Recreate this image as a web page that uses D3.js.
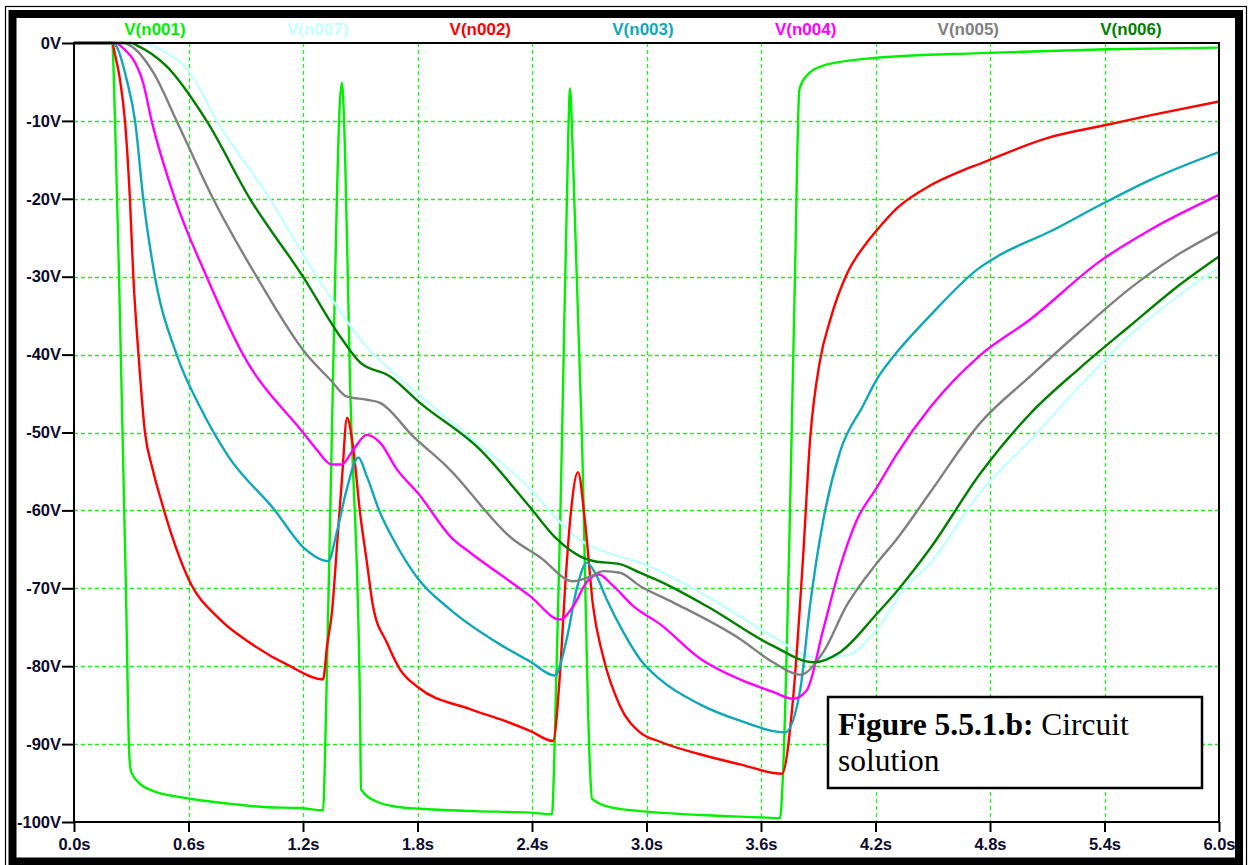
<!DOCTYPE html>
<html>
<head>
<meta charset="utf-8">
<script src="https://cdn.jsdelivr.net/npm/d3@7"></script>
<style>
  html, body { margin: 0; padding: 0; background: #fff; }
  svg { display: block; }
</style>
</head>
<body>
<svg id="chart" width="1252" height="865"></svg>
<script>
// Transient node voltages, [time (s), volts]
const timeTicks = [0, 0.6, 1.2, 1.8, 2.4, 3.0, 3.6, 4.2, 4.8, 5.4, 6.0];
const voltTicks = [0, -10, -20, -30, -40, -50, -60, -70, -80, -90, -100];

const traceNames  = ["V(n001)", "V(n007)", "V(n002)", "V(n003)", "V(n004)", "V(n005)", "V(n006)"];
const traceColors = ["#00f000", "#c4ffff", "#ff0000", "#10a8b8", "#ff00ff", "#808080", "#008000"];

const vN001 = [[0,0],[0.2,0],[0.215,-10],[0.236,-30],[0.257,-53],[0.272,-70],[0.29,-91.5],[0.3,-93.6],[0.346,-95.1],[0.414,-96],[0.555,-96.8],[0.66,-97.2],[0.833,-97.7],[1.01,-98.1],[1.184,-98.2],[1.305,-98.5],[1.321,-85.5],[1.357,-43.2],[1.394,-7.3],[1.404,-5.1],[1.42,-13.7],[1.446,-43.2],[1.499,-85.5],[1.504,-95.8],[1.588,-97.4],[1.708,-98.1],[1.813,-98.3],[2.1,-98.6],[2.39,-98.8],[2.505,-99],[2.515,-93.6],[2.557,-51],[2.59,-12],[2.599,-5.8],[2.615,-15],[2.662,-51],[2.704,-93.2],[2.714,-97],[2.809,-98.1],[3.018,-98.7],[3.28,-99.1],[3.595,-99.4],[3.7,-99.5],[3.714,-94.5],[3.752,-60.1],[3.778,-29.9],[3.801,-6],[3.839,-4.2],[3.926,-2.9],[4.206,-1.9],[4.748,-1.3],[5.413,-0.8],[6.0,-0.6]];

const vN007 = [[0,0],[0.362,0],[0.45,-0.8],[0.608,-3.8],[0.748,-10],[1.027,-20],[1.272,-30],[1.377,-33.8],[1.499,-38],[1.777,-44.5],[2.075,-50.6],[2.39,-57.2],[2.547,-61.5],[2.652,-63.8],[2.791,-65.4],[2.966,-66.7],[3.071,-67.8],[3.317,-71],[3.663,-76.2],[3.874,-78.8],[4.049,-78.6],[4.206,-75.3],[4.363,-69.7],[4.486,-66.8],[4.748,-57.7],[5.01,-51],[5.272,-44],[5.534,-37.5],[5.796,-32.3],[6.0,-28.8]];

const vN002 = [[0,0],[0.2,0],[0.215,-1.5],[0.241,-4.7],[0.267,-10],[0.293,-20],[0.311,-30],[0.338,-40],[0.372,-50],[0.41,-54.5],[0.46,-59],[0.503,-62.5],[0.6,-68.8],[0.765,-74],[0.922,-77],[1.132,-80],[1.305,-81.7],[1.326,-77.4],[1.352,-73],[1.378,-64.6],[1.404,-56],[1.431,-48.1],[1.462,-51.8],[1.499,-60.3],[1.535,-66.7],[1.567,-72.3],[1.64,-77],[1.708,-80.4],[1.803,-82.7],[2.075,-85.5],[2.232,-86.8],[2.39,-88.3],[2.51,-89.6],[2.547,-80.8],[2.573,-70.1],[2.599,-61.5],[2.641,-55.1],[2.678,-61.5],[2.72,-72.3],[2.772,-78.7],[2.861,-85.1],[2.966,-88.5],[3.071,-89.7],[3.28,-91.3],[3.49,-92.6],[3.71,-93.8],[3.768,-84.2],[3.82,-66.2],[3.857,-51],[3.909,-40.8],[3.962,-35.6],[4.051,-29.6],[4.155,-25.6],[4.208,-24],[4.313,-21.2],[4.486,-18.3],[4.643,-16.5],[4.748,-15.5],[5.099,-12.2],[5.413,-10.5],[5.638,-9.3],[6.0,-7.5]];

const vN003 = [[0,0],[0.2,0],[0.224,-0.5],[0.276,-4.7],[0.32,-10],[0.363,-20],[0.424,-30],[0.538,-40],[0.66,-46.7],[0.807,-53],[1.053,-60],[1.2,-64.7],[1.333,-66.5],[1.377,-62.8],[1.429,-57.3],[1.49,-53.2],[1.534,-55.6],[1.604,-60.3],[1.673,-63.7],[1.804,-68.8],[1.97,-72.7],[2.232,-77.2],[2.39,-79.4],[2.52,-81.2],[2.582,-76.5],[2.634,-70.1],[2.687,-66.7],[2.73,-68],[2.791,-71.4],[2.878,-75.6],[2.966,-79.1],[3.071,-81.7],[3.28,-84.9],[3.49,-87],[3.726,-88.5],[3.805,-83.1],[3.857,-72.2],[3.926,-61.3],[4.014,-52.5],[4.136,-46.5],[4.206,-43.2],[4.302,-40],[4.486,-35],[4.748,-28.8],[4.852,-27.2],[5.115,-24.2],[5.377,-20.8],[5.638,-17.6],[6.0,-14]];

const vN004 = [[0,0],[0.22,0],[0.25,-0.5],[0.362,-5.1],[0.407,-10],[0.529,-20],[0.695,-30],[0.886,-40],[1.2,-50],[1.272,-52.2],[1.35,-54.1],[1.403,-54.1],[1.464,-52.2],[1.534,-50.3],[1.604,-51.3],[1.691,-54.7],[1.803,-57.8],[1.986,-63.7],[2.075,-65.4],[2.39,-71],[2.547,-74],[2.616,-72.3],[2.687,-69.2],[2.748,-68.2],[2.826,-69.7],[2.931,-72.3],[3.071,-74.6],[3.28,-79],[3.49,-81.7],[3.663,-83.3],[3.768,-84.2],[3.84,-83.1],[3.926,-75.3],[4.014,-67.3],[4.101,-61.3],[4.206,-57.1],[4.311,-52.8],[4.486,-46.8],[4.748,-40.1],[5.01,-35.5],[5.377,-28],[5.638,-24],[6.0,-19.5]];

const vN005 = [[0,0],[0.26,0],[0.293,-0.3],[0.416,-3.8],[0.538,-10],[0.729,-20],[0.957,-30],[1.219,-40],[1.342,-43.2],[1.431,-45.4],[1.535,-45.8],[1.604,-46.2],[1.777,-50.5],[1.955,-54.4],[2.3,-63.7],[2.442,-66],[2.616,-69.1],[2.704,-68.5],[2.774,-67.8],[2.861,-68],[2.966,-69.7],[3.139,-71.8],[3.49,-76.5],[3.663,-79.5],[3.805,-81.1],[3.926,-78.2],[4.049,-72.2],[4.206,-66.8],[4.311,-63.7],[4.486,-57.7],[4.748,-48.8],[5.01,-42.8],[5.272,-37],[5.534,-31.5],[5.796,-27],[6.0,-24.2]];

const vN006 = [[0,0],[0.3,0],[0.329,-0.3],[0.486,-3],[0.695,-10],[0.922,-20],[1.2,-30],[1.404,-38],[1.499,-41],[1.656,-42.8],[1.813,-46.2],[2.128,-52.2],[2.39,-59.6],[2.531,-63.7],[2.652,-65.9],[2.721,-66.5],[2.861,-66.9],[2.966,-68],[3.071,-69.1],[3.317,-72.3],[3.663,-77.4],[3.874,-79.5],[4.014,-78.2],[4.206,-73.3],[4.311,-70.4],[4.486,-64.9],[4.748,-55.3],[5.01,-47.6],[5.272,-41.7],[5.534,-36.3],[5.796,-31],[6.0,-27.4]];

const traceData = [vN001, vN007, vN002, vN003, vN004, vN005, vN006];

const captionBold = "Figure 5.5.1.b:";
const captionRest = " Circuit";
const captionLine2 = "solution";

// ---- layout ----
const svg = d3.select("#chart");
const plot = { left: 74, right: 1219, top: 43, bottom: 822 };
const labelFont = "'Liberation Sans', Arial, sans-serif";
const textColor = "#0c0c2c";

const x = d3.scaleLinear().domain([0, 6]).range([plot.left, plot.right]);
const y = d3.scaleLinear().domain([0, -100]).range([plot.top, plot.bottom]);

svg.append("rect").attr("width", 1252).attr("height", 865).attr("fill", "#fff");

// window frame: thin outer line and heavy inner border
svg.append("rect").attr("x", 5.5).attr("y", 6.5).attr("width", 1241).attr("height", 880)
  .attr("fill", "none").attr("stroke", "#000").attr("stroke-width", 1.2);
svg.append("rect").attr("x", 12.5).attr("y", 14).attr("width", 1226.5).attr("height", 847.5)
  .attr("fill", "none").attr("stroke", "#000").attr("stroke-width", 8);

// grid
const grid = svg.append("g").attr("stroke", "#22ee22").attr("stroke-width", 1.3)
  .attr("stroke-dasharray", "4,3");
grid.selectAll("line.v").data(timeTicks.filter(t => t > 0 && t < 6)).join("line")
  .attr("class", "v")
  .attr("x1", d => Math.round(x(d)) + 0.5).attr("x2", d => Math.round(x(d)) + 0.5)
  .attr("y1", plot.top).attr("y2", plot.bottom);
grid.selectAll("line.h").data(voltTicks.filter(v => v < 0 && v > -100)).join("line")
  .attr("class", "h")
  .attr("y1", d => Math.round(y(d)) + 0.5).attr("y2", d => Math.round(y(d)) + 0.5)
  .attr("x1", plot.left).attr("x2", plot.right);

// traces
svg.append("clipPath").attr("id", "plotClip").append("rect")
  .attr("x", plot.left).attr("y", plot.top - 2)
  .attr("width", plot.right - plot.left).attr("height", plot.bottom - plot.top + 2);

const line = d3.line().x(d => x(d[0])).y(d => y(d[1])).curve(d3.curveMonotoneX);
svg.append("g").attr("clip-path", "url(#plotClip)")
  .selectAll("path").data(traceData).join("path")
  .attr("d", line)
  .attr("fill", "none")
  .attr("stroke", (d, i) => traceColors[i])
  .attr("stroke-width", 2.4)
  .attr("stroke-linejoin", "round");

// plot frame
svg.append("rect").attr("x", plot.left).attr("y", plot.top)
  .attr("width", plot.right - plot.left).attr("height", plot.bottom - plot.top)
  .attr("fill", "none").attr("stroke", "#000").attr("stroke-width", 2);

// axes
const yAxis = d3.axisLeft(y).tickValues(voltTicks).tickSize(12).tickPadding(1)
  .tickFormat(d => d + "V");
const xAxis = d3.axisBottom(x).tickValues(timeTicks).tickSize(10).tickPadding(6)
  .tickFormat(d => d.toFixed(1) + "s");

function styleAxis(g) {
  g.select(".domain").remove();
  g.selectAll(".tick line").attr("stroke", "#000").attr("stroke-width", 2);
  g.selectAll(".tick text")
    .attr("fill", textColor)
    .style("font-family", labelFont)
    .style("font-weight", "bold")
    .style("font-size", "16.5px");
}
svg.append("g").attr("transform", `translate(${plot.left},0)`).call(yAxis).call(styleAxis);
svg.append("g").attr("transform", `translate(0,${plot.bottom})`).call(xAxis).call(styleAxis);

// trace legend across the top
const legendX = d3.scalePoint().domain(traceNames).range([155, 1131]);
svg.append("g").selectAll("text").data(traceNames).join("text")
  .attr("x", d => legendX(d)).attr("y", 35)
  .attr("text-anchor", "middle")
  .attr("fill", (d, i) => traceColors[i])
  .style("font-family", labelFont)
  .style("font-weight", "bold")
  .style("font-size", "17px")
  .text(d => d);

// caption box
const cap = svg.append("g");
cap.append("rect").attr("x", 828).attr("y", 697).attr("width", 374).attr("height", 91)
  .attr("fill", "#fff").attr("stroke", "#000").attr("stroke-width", 2.5);
const capText = cap.append("text").attr("x", 838).attr("y", 735)
  .style("font-family", "'Liberation Serif', 'Times New Roman', serif")
  .style("font-size", "31.5px").attr("fill", "#000");
capText.append("tspan").style("font-weight", "bold").text(captionBold);
capText.append("tspan").text(captionRest);
cap.append("text").attr("x", 838).attr("y", 771)
  .style("font-family", "'Liberation Serif', 'Times New Roman', serif")
  .style("font-size", "31.5px").attr("fill", "#000")
  .text(captionLine2);
</script>
</body>
</html>
